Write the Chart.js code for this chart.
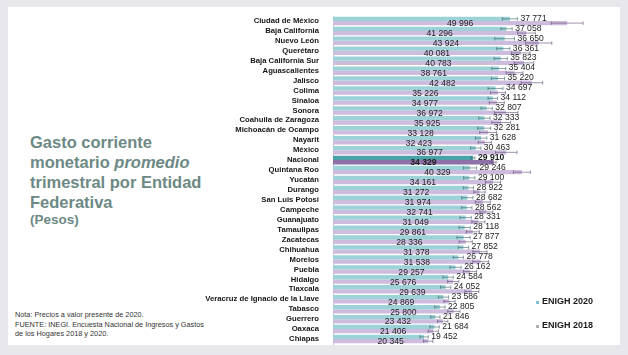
<!DOCTYPE html>
<html>
<head>
<meta charset="utf-8">
<script src="https://cdn.jsdelivr.net/npm/chart.js@4.4.1/dist/chart.umd.min.js"></script>
<style>
  html, body { margin:0; padding:0; width:628px; height:355px; overflow:hidden; background:#e8e7ec; font-family:"Liberation Sans", Arial, sans-serif; }
  #card { position:absolute; left:8px; top:7px; width:612px; height:338px; background:#ffffff; }
  #wrap { position:absolute; left:0; top:0; width:628px; height:355px; }
  .title { position:absolute; left:30px; top:132px; font-size:16.5px; line-height:20px; font-weight:bold; color:#6d8985; white-space:nowrap; }
  .sub { position:absolute; left:30px; top:211px; font-size:13.5px; line-height:18px; font-weight:bold; color:#6d8985; }
  .note { position:absolute; left:15px; top:310px; font-size:7.3px; line-height:9.6px; color:#333; white-space:nowrap; }
  .leg { position:absolute; left:542px; font-size:9px; font-weight:bold; color:#1a1a1a; line-height:10px; white-space:nowrap; }
  .sq { position:absolute; width:3px; height:3px; left:-6px; top:5px; }
</style>
</head>
<body>
<div id="card"></div>
<div class="title">Gasto corriente<br>monetario <i>promedio</i><br>trimestral por Entidad<br>Federativa</div>
<div class="sub">(Pesos)</div>
<div class="note">Nota: Precios a valor presente de 2020.<br>FUENTE: INEGI. Encuesta Nacional de Ingresos y Gastos<br>de los Hogares 2018 y 2020.</div>
<div id="wrap"><canvas id="c" width="628" height="355"></canvas></div>
<div class="leg" style="top:296px;"><span class="sq" style="background:#7fc6cc;"></span>ENIGH 2020</div>
<div class="leg" style="top:320px;"><span class="sq" style="background:#b4b0ba;"></span>ENIGH 2018</div>
<script>
const categories = ['Ciudad de México','Baja California','Nuevo León','Querétaro','Baja California Sur','Aguascalientes','Jalisco','Colima','Sinaloa','Sonora','Coahuila de Zaragoza','Michoacán de Ocampo','Nayarit','México','Nacional','Quintana Roo','Yucatán','Durango','San Luis Potosí','Campeche','Guanajuato','Tamaulipas','Zacatecas','Chihuahua','Morelos','Puebla','Hidalgo','Tlaxcala','Veracruz de Ignacio de la Llave','Tabasco','Guerrero','Oaxaca','Chiapas'];
const seriesNames = ['ENIGH 2020','ENIGH 2018'];
const values2020 = [37771,37058,36650,36361,35823,35404,35220,34697,34112,32807,32333,32281,31628,30463,29910,29246,29100,28922,28682,28562,28331,28118,27877,27852,26778,26162,24584,24052,23586,22805,21846,21684,19452];
const values2018 = [49996,41296,43924,40081,40783,38761,42482,35226,34977,36972,35925,33128,32423,36977,34329,40329,34161,31272,31974,32741,31049,29861,28336,31378,31538,29257,25676,29639,24869,25800,23432,21406,20345];
const err2020 = [1600,1200,2100,1400,1400,1500,1400,1600,1000,1200,1200,1400,1200,1100,400,1400,1200,1100,1200,1100,1200,1200,1400,1100,1100,1200,1100,1100,1100,1100,1000,1000,900];
const err2018 = [3400,1900,2800,2000,2100,1800,2300,1600,1600,2500,2000,1800,1400,2300,500,1800,1600,1200,1600,1400,1400,1400,1400,1500,1700,1400,1200,1500,1200,1300,1100,1100,1000];
const highlight = 'Nacional';

const fmt = v => String(v).replace(/\B(?=(\d{3})+(?!\d))/g, ' ');
const hiIdx = categories.indexOf(highlight);
const errs = [err2020, err2018];

const annot = {
  id: 'annot',
  afterDatasetsDraw(chart) {
    const ctx = chart.ctx;
    const xs = chart.scales.x;
    chart.data.datasets.forEach((ds, di) => {
      const meta = chart.getDatasetMeta(di);
      meta.data.forEach((el, i) => {
        const v = ds.data[i];
        const e = errs[di][i];
        const x1 = xs.getPixelForValue(v - e);
        const x2 = xs.getPixelForValue(v + e);
        const y = el.y;
        ctx.save();
        ctx.strokeStyle = di === 0 ? 'rgba(60,100,105,0.75)' : 'rgba(95,75,115,0.75)';
        ctx.lineWidth = 0.8;
        ctx.beginPath();
        ctx.moveTo(x1, y); ctx.lineTo(x2, y);
        ctx.moveTo(x1, y - 1.8); ctx.lineTo(x1, y + 1.8);
        ctx.moveTo(x2, y - 1.8); ctx.lineTo(x2, y + 1.8);
        ctx.stroke();
        const bold = i === hiIdx ? 'bold ' : '';
        ctx.font = bold + '8.6px "Liberation Sans", Arial, sans-serif';
        ctx.fillStyle = '#1e1e1e';
        ctx.textBaseline = 'middle';
        if (di === 0) {
          ctx.textAlign = 'left';
          ctx.fillText(fmt(v), x2 + 3, y - 0.5);
        } else {
          ctx.textAlign = 'center';
          ctx.fillText(fmt(v), (el.base + el.x) / 2 + 10, y + 0.8);
        }
        ctx.restore();
      });
    });
  }
};

new Chart(document.getElementById('c'), {
  type: 'bar',
  data: {
    labels: categories,
    datasets: [
      { label: seriesNames[0], data: values2020,
        backgroundColor: categories.map((c, i) => i === hiIdx ? '#4aa2a8' : '#9dd2d8') },
      { label: seriesNames[1], data: values2018,
        backgroundColor: categories.map((c, i) => i === hiIdx ? '#8d72a8' : '#cdbcdd') }
    ]
  },
  options: {
    indexAxis: 'y',
    responsive: false,
    animation: false,
    devicePixelRatio: 1,
    layout: { padding: { left: 0, right: 14, top: 16, bottom: 11 } },
    datasets: { bar: { categoryPercentage: 0.86, barPercentage: 1.0 } },
    plugins: { legend: { display: false }, tooltip: { enabled: false } },
    scales: {
      x: { display: false, min: 0, max: 60000 },
      y: {
        afterFit(s) { s.width = 333; },
        grid: { display: false },
        border: { display: true, color: '#c4c4c4', width: 1 },
        ticks: {
          autoSkip: false, padding: 6, color: '#151515',
          font: { family: '"Liberation Sans", Arial, sans-serif', size: 7.7, weight: 'bold' }
        }
      }
    }
  },
  plugins: [annot]
});
</script>
</body>
</html>
